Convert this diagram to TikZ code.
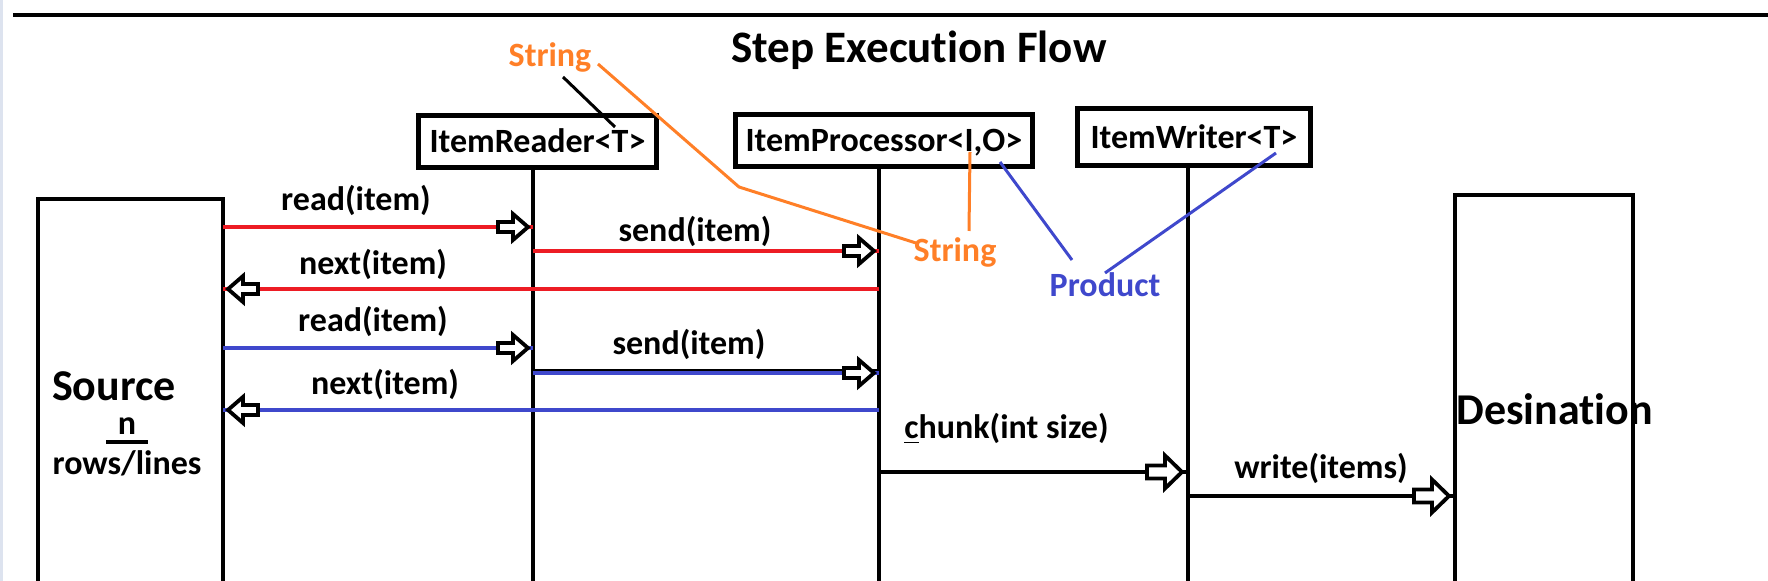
\documentclass[tikz,border=0pt]{standalone}
\usepackage{fontspec}
\setmainfont{Carlito}[Ligatures={NoCommon,NoContextual}]
\usetikzlibrary{calc}
\definecolor{pred}{HTML}{ED1C24}
\definecolor{pblue}{HTML}{3F48CC}
\definecolor{porange}{HTML}{FF7F27}
\definecolor{edgebar}{HTML}{DDE3EF}
\begin{document}
\begin{tikzpicture}[x=0.5pt,y=-0.5pt,
  lbl/.style={font=\fontsize{17pt}{20pt}\selectfont\bfseries, inner sep=0pt},
  big/.style={font=\fontsize{22pt}{25pt}\selectfont\bfseries, inner sep=0pt},
  ttl/.style={font=\fontsize{22.5pt}{26pt}\selectfont\bfseries, inner sep=0pt},
  cls/.style={draw, line width=2.4pt, inner sep=0pt, outer sep=0pt,
    font=\fontsize{17pt}{20pt}\selectfont\bfseries, text height=11.5pt, text depth=0pt},
  box/.style={draw, line width=2.4pt, inner sep=0pt, outer sep=0pt, anchor=north west},
  life/.style={line width=2pt},
  redln/.style={draw=pred, line width=2pt},
  blueln/.style={draw=pblue, line width=2pt},
  mixln/.style={draw=pblue, line width=1.7pt,
    postaction={draw=black, line width=0.9pt, transform canvas={yshift=1.3pt}}},
  blkln/.style={draw=black, line width=2pt},
  note/.style={line width=1.5pt},
  bhead/.pic={\draw[black, line width=1.9pt, fill=white, line join=miter, miter limit=4]
     (-5,0) -- (-20,-13) -- (-20,-5) -- (-35,-5) -- (-35,5) -- (-20,5) -- (-20,13) -- cycle;},
  bheadL/.pic={\draw[black, line width=1.9pt, fill=white, line join=miter, miter limit=4]
     (-6,0) -- (-23,-16.5) -- (-23,-6.5) -- (-41,-6.5) -- (-41,6.5) -- (-23,6.5) -- (-23,16.5) -- cycle;}
]
\useasboundingbox (0,0) rectangle (1768,581);
\clip (0,0) rectangle (1768,581);
\fill[edgebar] (0,0) rectangle (3,581);

% top rule and title
\coordinate (topl) at (13,15);
\coordinate (topr) at (1770,15);
\draw[line width=2pt] (topl) -- (topr);
\node[ttl, anchor=base] (title) at (919,63) {Step Execution Flow};

% source and destination
\node[box, minimum width=92.5pt, minimum height=220pt] (src) at (38,199) {};
\node[box, minimum width=89pt, minimum height=220pt] (dst) at (1455,195) {};
\node[big, anchor=base] (srcname) at (114,401) {Source};
\node[lbl, anchor=base] (srcn) at (127,435) {n};
\draw[line width=2pt] ($(srcn.base)+(-21,7)$) -- ($(srcn.base)+(21,7)$);
\node[lbl, anchor=base] (srcrows) at (127,475) {rows/lines};
\node[big, anchor=base west] (dstname) at (1456,425) {Desination};

% participants
\node[cls, minimum width=119pt, minimum height=26pt] (reader) at (537.5,141.5) {ItemReader<T>};
\node[cls, minimum width=148.5pt, minimum height=26pt] (proc) at (884,140.5) {ItemProcessor<I,O>};
\node[cls, minimum width=116.5pt, minimum height=28.5pt] (writer) at (1194,137) {ItemWriter<T>};

\coordinate (rbot) at (533,600);
\coordinate (pbot) at (879,600);
\coordinate (wbot) at (1188,600);
\draw[life] (reader.south -| rbot) -- (rbot);
\draw[life] (proc.south -| pbot) -- (pbot);
\draw[life] (writer.south -| wbot) -- (wbot);

% messages
\draw[redln]  (src.east |- 0,227) -- (rbot |- 0,227);
\draw[redln]  (rbot |- 0,251) -- (pbot |- 0,251);
\draw[redln]  (pbot |- 0,289) -- (src.east |- 0,289);
\draw[blueln] (src.east |- 0,348) -- (rbot |- 0,348);
\draw[mixln]  (rbot |- 0,373) -- (pbot |- 0,373);
\draw[blueln] (pbot |- 0,410) -- (src.east |- 0,410);
\draw[blkln]  (pbot |- 0,472) -- (wbot |- 0,472);
\draw[blkln]  (wbot |- 0,496) -- (dst.west |- 0,496);

\pic at (rbot |- 0,227) {bhead};
\pic at (pbot |- 0,251) {bhead};
\pic[rotate=180] at (src.east |- 0,289) {bhead};
\pic at (rbot |- 0,348) {bhead};
\pic at (pbot |- 0,373) {bhead};
\pic[rotate=180] at (src.east |- 0,410) {bhead};
\pic at (wbot |- 0,472) {bheadL};
\pic at (dst.west |- 0,496) {bheadL};

\node[lbl, anchor=base] (m1) at (356,211) {read(item)};
\node[lbl, anchor=base] (m2) at (695,242) {send(item)};
\node[lbl, anchor=base] (m3) at (373,275) {next(item)};
\node[lbl, anchor=base] (m4) at (373,332) {read(item)};
\node[lbl, anchor=base] (m5) at (689,355) {send(item)};
\node[lbl, anchor=base] (m6) at (385,395) {next(item)};
\node[lbl, anchor=base west] (m7) at (904,439) {\underline{c}hunk(int size)};
\node[lbl, anchor=base] (m8) at (1321,479) {write(items)};

% type annotations
\node[lbl, text=porange, anchor=base] (str1) at (550,67) {String};
\node[lbl, text=porange, anchor=base] (str2) at (955,262) {String};
\node[lbl, text=pblue, anchor=base] (prod) at (1105,297) {Product};

\coordinate (blkA) at (563,77);
\coordinate (tReader) at (615,127);
\draw[note] (blkA) -- (tReader);

\coordinate (orA) at (598,64);
\coordinate (orB) at (739,187);
\coordinate (orC) at (916,243);
\draw[note, porange] (orA) -- (orB) -- (orC);

\coordinate (iProc) at (970,152);
\coordinate (iEnd) at (969,231);
\draw[note, porange] (iProc) -- (iEnd);

\coordinate (oProc) at (1000,162);
\coordinate (prodA) at (1072,260);
\draw[note, pblue] (oProc) -- (prodA);

\coordinate (prodB) at (1105,273);
\coordinate (tWriter) at (1276,153);
\draw[note, pblue] (prodB) -- (tWriter);
\end{tikzpicture}
\end{document}
